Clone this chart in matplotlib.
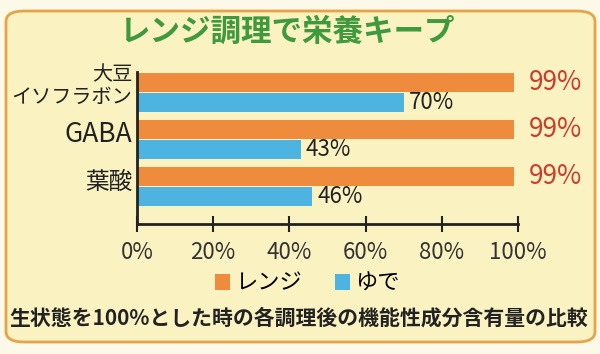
import matplotlib
matplotlib.use("Agg")
import matplotlib.pyplot as plt
from matplotlib.patches import FancyBboxPatch, Patch
import matplotlib.transforms as mtransforms

plt.rcParams['font.family'] = ['Noto Sans CJK JP', 'DejaVu Sans']

# data
categories = ['大豆\nイソフラボン', 'GABA', '葉酸']
range_vals = [99, 99, 99]   # レンジ
boil_vals = [70, 43, 46]    # ゆで
xticks = [0, 20, 40, 60, 80, 100]
xtick_labels = ['0%', '20%', '40%', '60%', '80%', '100%']
series_names = ['レンジ', 'ゆで']
title = 'レンジ調理で栄養キープ'
note = '生状態を100%とした時の各調理後の機能性成分含有量の比較'

c_orange = '#ef8b3c'
c_blue = '#4db4e2'
c_red = '#d03a2b'
c_green = '#3e9a3c'
c_panel = '#fbf2c2'
c_border = '#e6a449'
c_text = '#222222'

fig = plt.figure(figsize=(6.0, 3.54), dpi=100)
fig.patch.set_facecolor('#fdf9e8')

# rounded panel
panel = FancyBboxPatch((6 / 600, 1 - 342 / 354), 589 / 600, 331 / 354,
                       boxstyle='round,pad=0,rounding_size=0.03',
                       transform=fig.transFigure, facecolor=c_panel,
                       edgecolor=c_border, linewidth=2.0, zorder=-10)
fig.patches.append(panel)

ax = fig.add_axes([137 / 600, 1 - 224 / 354, 381 / 600, 152 / 354])
ax.set_facecolor('none')
ax.set_zorder(1)

pos = list(range(len(categories)))
bh = 0.415
off = 0.213
ax.barh([p - off for p in pos], range_vals, height=bh, color=c_orange, zorder=2)
ax.barh([p + off for p in pos], boil_vals, height=bh, color=c_blue, zorder=2)

ax.set_xticks(xticks)
ax.set_xticklabels(xtick_labels, fontsize=16, color='#333333')
ax.set_yticks([])
ax.set_xlim(0, 100)
ax.set_ylim(2.798, -0.436)

for p, v in zip(pos, range_vals):
    ax.text(v + 3.8, p - off, f'{v}%', color=c_red, fontsize=19,
            ha='left', va='center', clip_on=False)
for p, v in zip(pos, boil_vals):
    ax.text(v + 1.3, p + off, f'{v}%', color=c_text, fontsize=16,
            ha='left', va='center', clip_on=False)

ax.tick_params(axis='x', direction='inout', length=11, width=1.5,
               color=c_text, pad=7)
for s in ['top', 'right']:
    ax.spines[s].set_visible(False)
for s in ['left', 'bottom']:
    ax.spines[s].set_linewidth(2.0)
    ax.spines[s].set_color(c_text)

# category labels
trans = mtransforms.blended_transform_factory(ax.transAxes, ax.transData)
label_shift = [-0.128, -0.096, -0.096]
label_size = [14.5, 19, 17]
for lab, p, d, fs in zip(categories, pos, label_shift, label_size):
    ax.text(-0.013, p + d, lab, transform=trans, ha='right', va='center',
            fontsize=fs, color=c_text, linespacing=1.1)

fig.text(0.478, 1 - 32 / 354, title, fontsize=22, fontweight='bold',
         color=c_green, ha='center', va='center')

handles = [Patch(facecolor=c_orange, edgecolor='none'),
           Patch(facecolor=c_blue, edgecolor='none')]
fig.legend(handles, series_names, loc='center', ncol=2,
           bbox_to_anchor=(307 / 600, 1 - 283 / 354), frameon=False,
           fontsize=16, handlelength=0.7, handleheight=0.7,
           handletextpad=0.2, columnspacing=1.5, borderpad=0)

fig.text(0.4975, 1 - 318 / 354, note, fontsize=15, fontweight='bold',
         color=c_text, ha='center', va='center')

fig.savefig('out.png', dpi=100, facecolor=fig.get_facecolor())
